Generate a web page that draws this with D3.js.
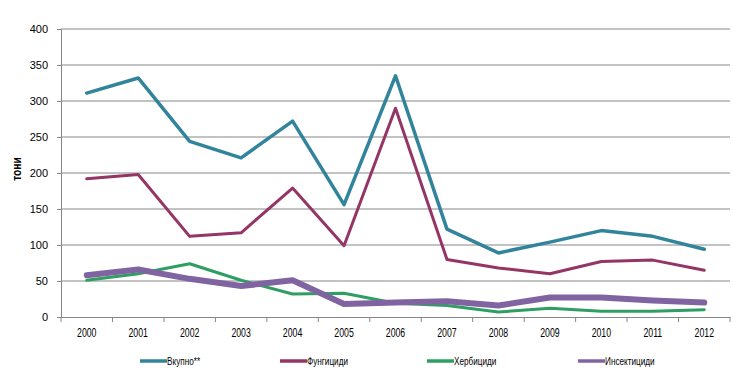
<!DOCTYPE html>
<html>
<head>
<meta charset="utf-8">
<script src="https://cdn.jsdelivr.net/npm/d3@7"></script>
<style>
  body { margin: 0; background: #fff; }
  text { font-family: "Liberation Sans", Arial, sans-serif; }
</style>
</head>
<body>
<svg id="chart" width="752" height="384"></svg>
<script>
// податоци
var years = ["2000","2001","2002","2003","2004","2005","2006","2007","2008","2009","2010","2011","2012"];
var vkupno = [311, 332, 244, 221, 272, 156, 335, 122, 89, 104, 120, 112, 94];
var fungicidi = [192, 198, 112, 117, 179, 99, 290, 80, 68, 60, 77, 79, 65];
var herbicidi = [51, 60, 74, 51, 32, 33, 19, 16, 7, 12, 8, 8, 10];
var insekticidi = [58, 66, 53, 43, 51, 18, 20, 22, 16, 27, 27, 23, 20];
var yTicks = [0, 50, 100, 150, 200, 250, 300, 350, 400];

var series = [
  { name: "Вкупно**", values: vkupno, color: "#31849b", width: 3.5 },
  { name: "Фунгициди", values: fungicidi, color: "#953565", width: 3 },
  { name: "Хербициди", values: herbicidi, color: "#2f9e62", width: 3 },
  { name: "Инсектициди", values: insekticidi, color: "#8064a2", width: 6 }
];

var svg = d3.select("#chart");

var plotL = 61, plotR = 730, plotT = 29, plotB = 317;

var x = d3.scaleBand().domain(years).range([plotL, plotR]);
var y = d3.scaleLinear().domain([0, 400]).range([plotB, plotT]);

// мрежа
svg.append("g")
  .selectAll("line")
  .data(yTicks.slice(1))
  .enter().append("line")
  .attr("x1", plotL)
  .attr("x2", plotR)
  .attr("y1", d => y(d))
  .attr("y2", d => y(d))
  .attr("stroke", "#868686")
  .attr("stroke-width", 1);

// y оска
var yAxis = svg.append("g")
  .attr("transform", "translate(" + plotL + ",0)")
  .call(d3.axisLeft(y).tickValues(yTicks).tickSize(4).tickPadding(9));
yAxis.select(".domain").attr("stroke", "#868686");
yAxis.selectAll(".tick line").attr("stroke", "#868686");
yAxis.selectAll("text").attr("font-size", 11).attr("fill", "#000").attr("font-family", "'Liberation Sans', Arial, sans-serif");

// x оска
var xAxis = svg.append("g")
  .attr("transform", "translate(0," + plotB + ")")
  .call(d3.axisBottom(x).tickSize(0).tickPadding(11));
xAxis.select(".domain").attr("stroke", "#868686");
xAxis.selectAll("text")
  .attr("font-size", 12.5)
  .attr("fill", "#000")
  .attr("font-family", "'Liberation Sans', Arial, sans-serif")
  .attr("transform", "scale(0.7,1)");

// поделки меѓу категориите
var bounds = years.map(d => x(d)).concat([plotR]);
svg.append("g")
  .selectAll("line")
  .data(bounds)
  .enter().append("line")
  .attr("x1", d => d)
  .attr("x2", d => d)
  .attr("y1", plotB)
  .attr("y2", plotB + 5)
  .attr("stroke", "#868686");

// наслов на y
svg.append("text")
  .attr("transform", "translate(21,169) rotate(-90) scale(0.82,1)")
  .attr("text-anchor", "middle")
  .attr("font-size", 12.5)
  .attr("font-weight", "bold")
  .text("тони");

// линии
var line = d3.line()
  .x((d, i) => x(years[i]) + x.bandwidth() / 2)
  .y(d => y(d));

svg.append("g")
  .selectAll("path")
  .data(series)
  .enter().append("path")
  .attr("d", d => line(d.values))
  .attr("fill", "none")
  .attr("stroke", d => d.color)
  .attr("stroke-width", d => d.width)
  .attr("stroke-linejoin", "round")
  .attr("stroke-linecap", "round");

// легенда
var legendX = [140, 280, 427, 578];
var legend = svg.append("g")
  .selectAll("g")
  .data(series)
  .enter().append("g")
  .attr("transform", (d, i) => "translate(" + legendX[i] + ",361)");

legend.append("line")
  .attr("x1", 0)
  .attr("x2", 27)
  .attr("stroke", d => d.color)
  .attr("stroke-width", 3.5);

legend.append("text")
  .attr("transform", "translate(27,3.5) scale(0.82,1)")
  .attr("font-size", 10)
  .text(d => d.name);
</script>
</body>
</html>
